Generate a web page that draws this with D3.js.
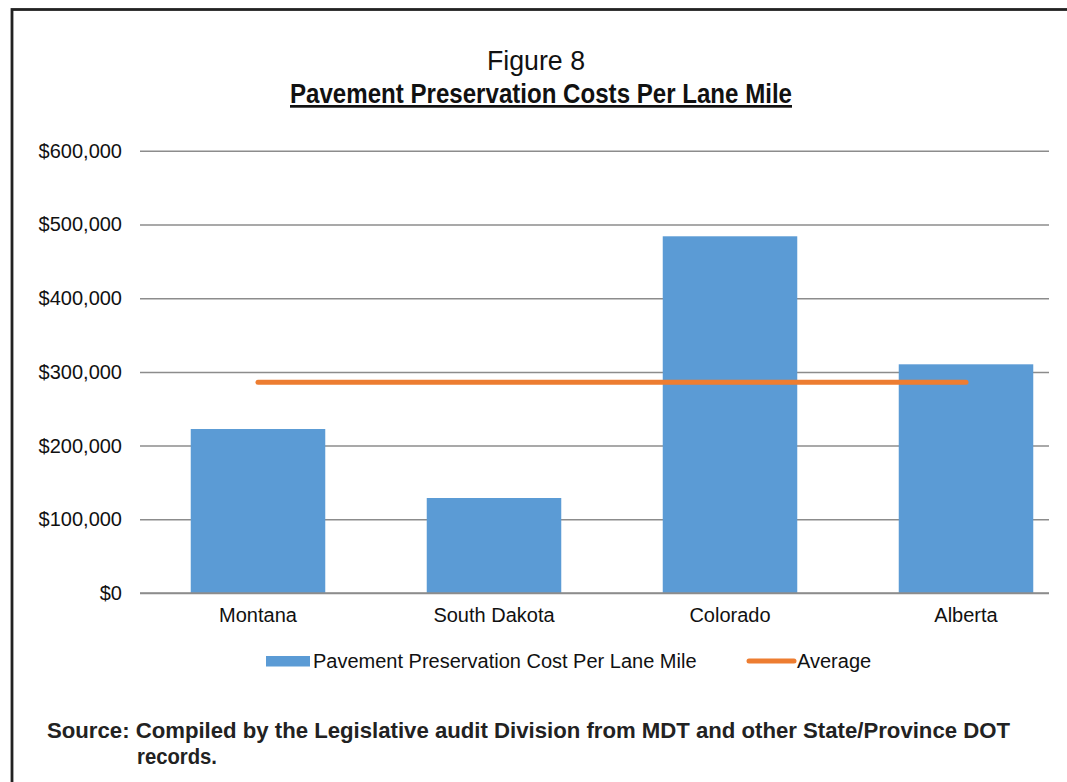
<!DOCTYPE html>
<html>
<head>
<meta charset="utf-8">
<script src="https://cdn.jsdelivr.net/npm/d3@7"></script>
<style>
  html, body { margin: 0; padding: 0; background: #fff; }
  svg { display: block; font-family: "Liberation Sans", Arial, sans-serif; }
</style>
</head>
<body>
<svg id="chart" width="1067" height="782"></svg>
<script>
// ---- data ----
const categories = ["Montana", "South Dakota", "Colorado", "Alberta"];
const costValues = [222500, 128900, 484000, 310300];
const averageValues = [286000, 286000, 286000, 286000];
const yTicks = [0, 100000, 200000, 300000, 400000, 500000, 600000];
const seriesNames = ["Pavement Preservation Cost Per Lane Mile", "Average"];
const figureLabel = "Figure 8";
const titleText = "Pavement Preservation Costs Per Lane Mile";
const sourceLines = ["Source: Compiled by the Legislative audit Division from MDT and other State/Province DOT", "records."];

// ---- layout ----
const W = 1067, H = 782;
const plot = { left: 140, right: 1084, gridRight: 1049, top: 150.8, bottom: 593 };
const barColor = "#5B9BD5";
const lineColor = "#ED7D31";
const gridColor = "#8C8C8C";

const svg = d3.select("#chart");

// frame
svg.append("rect")
  .attr("x", 12).attr("y", 9.5)
  .attr("width", W + 20).attr("height", H + 20)
  .attr("fill", "none").attr("stroke", "#222").attr("stroke-width", 2.8);

// titles (condensed look)
svg.append("text")
  .attr("x", 487).attr("y", 70)
  .attr("font-size", 27).attr("fill", "#111")
  .attr("textLength", 98).attr("lengthAdjust", "spacingAndGlyphs")
  .text(figureLabel);
svg.append("text")
  .attr("x", 290).attr("y", 103)
  .attr("font-size", 27).attr("font-weight", "bold").attr("fill", "#111")
  .attr("text-decoration", "underline")
  .attr("textLength", 502).attr("lengthAdjust", "spacingAndGlyphs")
  .text(titleText);

// scales
const x = d3.scaleBand().domain(categories)
  .range([plot.left, plot.right])
  .paddingInner(0.43).paddingOuter(0.215);
const y = d3.scaleLinear().domain([0, 600000]).range([plot.bottom, plot.top]);

// gridlines via axis
const fmt = v => "$" + d3.format(",")(v);
const yAxis = svg.append("g")
  .attr("transform", `translate(${plot.left},0)`)
  .call(d3.axisLeft(y).tickValues(yTicks).tickFormat(fmt)
        .tickSize(-(plot.gridRight - plot.left)).tickPadding(18));
yAxis.select(".domain").remove();
yAxis.selectAll(".tick line").attr("stroke", gridColor).attr("stroke-width", 1.5);
yAxis.selectAll(".tick text")
  .attr("font-size", 20).attr("fill", "#111")
  .attr("font-family", "'Liberation Sans', Arial, sans-serif");

// bars
svg.append("g").selectAll("rect")
  .data(categories.map((c, i) => ({ c, v: costValues[i] })))
  .join("rect")
  .attr("x", d => x(d.c))
  .attr("y", d => y(d.v))
  .attr("width", x.bandwidth())
  .attr("height", d => y(0) - y(d.v))
  .attr("fill", barColor);

// bottom axis line & labels
const xAxis = svg.append("g")
  .attr("transform", `translate(0,${plot.bottom})`)
  .call(d3.axisBottom(x).tickSize(0).tickPadding(15));
xAxis.select(".domain").remove();
xAxis.selectAll(".tick text")
  .attr("font-size", 20).attr("fill", "#111")
  .attr("font-family", "'Liberation Sans', Arial, sans-serif");
svg.append("line")
  .attr("x1", plot.left).attr("x2", plot.gridRight)
  .attr("y1", y(0)).attr("y2", y(0))
  .attr("stroke", gridColor).attr("stroke-width", 1.5);

// average line
const line = d3.line()
  .x((d, i) => x(categories[i]) + x.bandwidth() / 2)
  .y(d => y(d));
svg.append("path")
  .datum(averageValues)
  .attr("d", line)
  .attr("fill", "none")
  .attr("stroke", lineColor)
  .attr("stroke-width", 5)
  .attr("stroke-linecap", "round");

// legend
const lg = svg.append("g");
lg.append("rect").attr("x", 266).attr("y", 656).attr("width", 44).attr("height", 10.5).attr("fill", barColor);
lg.append("text").attr("x", 313).attr("y", 668).attr("font-size", 20).attr("fill", "#111").text(seriesNames[0]);
lg.append("line").attr("x1", 749).attr("x2", 794).attr("y1", 661).attr("y2", 661)
  .attr("stroke", lineColor).attr("stroke-width", 5).attr("stroke-linecap", "round");
lg.append("text").attr("x", 797).attr("y", 668).attr("font-size", 20).attr("fill", "#111").text(seriesNames[1]);

// source
svg.append("text")
  .attr("x", 47).attr("y", 738)
  .attr("font-size", 22).attr("font-weight", "bold").attr("fill", "#222")
  .attr("textLength", 963).attr("lengthAdjust", "spacingAndGlyphs")
  .text(sourceLines[0]);
svg.append("text")
  .attr("x", 137).attr("y", 764)
  .attr("font-size", 22).attr("font-weight", "bold").attr("fill", "#222")
  .attr("textLength", 80).attr("lengthAdjust", "spacingAndGlyphs")
  .text(sourceLines[1]);
</script>
</body>
</html>
